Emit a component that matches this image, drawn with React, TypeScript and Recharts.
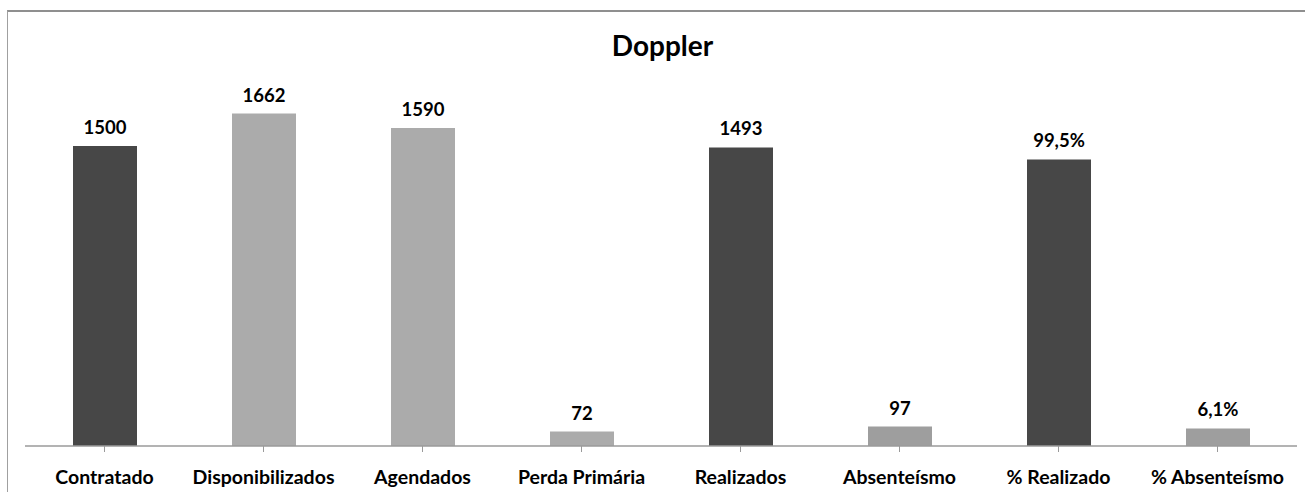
import React from 'react';
import { BarChart, Bar, XAxis, YAxis, Cell, LabelList } from 'recharts';

const categories = ['Contratado', 'Disponibilizados', 'Agendados', 'Perda Primária', 'Realizados', 'Absenteísmo', '% Realizado', '% Absenteísmo'];
const countValues: (number | null)[] = [1500, 1662, 1590, 72, 1493, 97, null, null];
const percentValues: (number | null)[] = [null, null, null, null, null, null, 99.5, 6.1];
const barColors = ['#474747', '#ababab', '#ababab', '#ababab', '#474747', '#9e9e9e', '#474747', '#9e9e9e'];

const data = categories.map((name, i) => ({
  name,
  count: countValues[i],
  pct: percentValues[i],
  color: barColors[i],
}));

const FONT = 'Lato, "Liberation Sans", sans-serif';

const CountLabel = (props: any) => {
  const { x, y, width, value } = props;
  if (value === null || value === undefined) return null;
  return (
    <text x={x + width / 2} y={y - 12} textAnchor="middle" fontFamily={FONT} fontWeight={700} fontSize={18.5} fill="#000">
      {String(value)}
    </text>
  );
};

const PctLabel = (props: any) => {
  const { x, y, width, value } = props;
  if (value === null || value === undefined) return null;
  return (
    <text x={x + width / 2} y={y - 12} textAnchor="middle" fontFamily={FONT} fontWeight={700} fontSize={18.5} fill="#000">
      {value.toFixed(1).replace('.', ',') + '%'}
    </text>
  );
};

const CatTick = (props: any) => {
  const { x, y, payload } = props;
  return (
    <text x={x} y={y + 30} textAnchor="middle" fontFamily={FONT} fontWeight={700} fontSize={19.5} fill="#000">
      {payload.value}
    </text>
  );
};

export default function App() {
  return (
    <div style={{ position: 'absolute', left: 0, top: 0, width: 1305, height: 492, overflow: 'hidden', background: '#fff' }}>
      <div style={{ position: 'absolute', left: 7, top: 10, width: 1400, height: 600, borderTop: '2px solid #8f8f8f', borderLeft: '1px solid #a0a0a0', boxSizing: 'border-box' }} />
      <div style={{ position: 'absolute', left: 0, top: 28, width: 1325, textAlign: 'center', fontFamily: FONT, fontWeight: 700, fontSize: 28, color: '#000', lineHeight: '34px' }}>
        Doppler
      </div>
      <div style={{ position: 'absolute', left: 0, top: 0 }}>
        <BarChart width={1305} height={492} data={data} margin={{ top: 86, right: 8, bottom: 6, left: 25 }}>
          <XAxis xAxisId="main" dataKey="name" height={40} axisLine={{ stroke: '#9a9a9a', strokeWidth: 1.5 }} tickLine={{ stroke: '#9a9a9a' }} tickSize={6} tick={<CatTick />} interval={0} />
          <XAxis xAxisId="pctx" dataKey="name" hide />
          <YAxis yAxisId="count" domain={[0, 1800]} hide />
          <YAxis yAxisId="pcty" domain={[0, 125]} hide orientation="right" />
          <Bar xAxisId="main" yAxisId="count" dataKey="count" barSize={64} isAnimationActive={false}>
            {data.map((d, i) => <Cell key={i} fill={d.color} />)}
            <LabelList dataKey="count" content={<CountLabel />} />
          </Bar>
          <Bar xAxisId="pctx" yAxisId="pcty" dataKey="pct" barSize={64} isAnimationActive={false}>
            {data.map((d, i) => <Cell key={i} fill={d.color} />)}
            <LabelList dataKey="pct" content={<PctLabel />} />
          </Bar>
        </BarChart>
      </div>
    </div>
  );
}
